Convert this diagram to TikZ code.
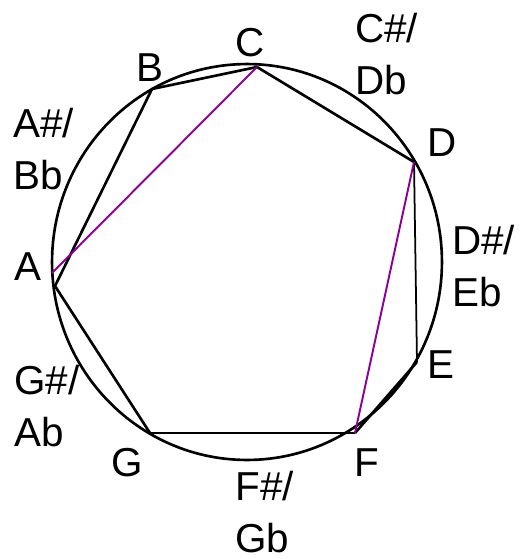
\documentclass[tikz,border=0pt]{standalone}
\usepackage{fontspec}
\setmainfont{Liberation Sans}
\usepackage{tikz}
\definecolor{chordpurple}{RGB}{140,0,150}

\begin{document}
\begin{tikzpicture}[x=0.02cm,y=-0.02cm,
    note/.style={inner sep=0pt,font=\fontsize{23}{29.5}\selectfont},
    pair/.style={note,anchor=north west,align=left},
    edge/.style={line width=1.5pt,line join=round},
    chord/.style={color=chordpurple,line width=1.1pt}]
    \useasboundingbox (0,0) rectangle (531,559);
    \draw[line width=1.5pt] (247,262) ellipse [x radius=3.9cm,y radius=3.96cm];
    \coordinate (c) at (257,67);
    \coordinate (b) at (152,89);
    \coordinate (a) at (55,286);
    \coordinate (a2) at (52,273);
    \coordinate (g) at (150,433);
    \coordinate (f) at (355,433);
    \coordinate (e) at (417,362);
    \coordinate (d) at (414,162);
    \draw[edge] (c) -- (b) -- (a) -- (g);
    \draw[line width=1pt] (g) -- (f);
    \draw[edge] (f) -- (e);
    \draw[line width=1pt] (e) -- (d);
    \draw[edge] (d) -- (c);
    \draw[chord] (a2) -- (c);
    \draw[chord] (d) -- (f);
    \node[note] (lc) at (250,43) {C};
    \node[note] (lb) at (150,68) {B};
    \node[note] (la) at (28,267) {A};
    \node[note] (lg) at (127,463) {G};
    \node[note] (lf) at (367,463) {F};
    \node[note] (le) at (441,365) {E};
    \node[note] (ld) at (442,143) {D};
    \node[pair] (lcs) at (355,13) {C\#/\\Db};
    \node[pair] (lds) at (452,225) {D\#/\\Eb};
    \node[pair] (lfs) at (235,471) {F\#/\\Gb};
    \node[pair] (lgs) at (14,365) {G\#/\\Ab};
    \node[pair] (las) at (13,108) {A\#/\\Bb};
\end{tikzpicture}
\end{document}
